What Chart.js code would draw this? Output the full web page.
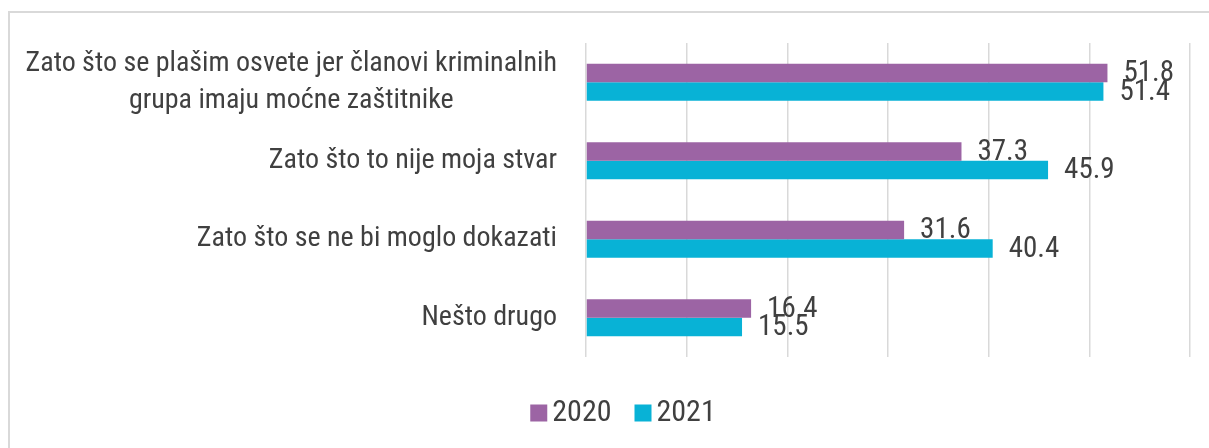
<!DOCTYPE html>
<html>
<head>
<meta charset="utf-8">
<script src="https://cdn.jsdelivr.net/npm/chart.js@4.4.1/dist/chart.umd.min.js"></script>
<style>
  html, body { margin: 0; padding: 0; background: #fff; }
  #wrap { position: relative; width: 1209px; height: 448px; overflow: hidden; }
  #frame { position: absolute; left: 8px; top: 11px; width: 1400px; height: 600px;
           border-left: 2px solid #d9d9d9; border-top: 2px solid #d9d9d9; }
  canvas { position: absolute; left: 0; top: 0; }
</style>
</head>
<body>
<div id="wrap">
  <div id="frame"></div>
  <canvas id="chart" width="1209" height="448"></canvas>
</div>
<script>
// kategorije (odgovori), svaka linija posebno
const categories = [
  ['Zato što se plašim osvete jer članovi kriminalnih', 'grupa imaju moćne zaštitnike'],
  ['Zato što to nije moja stvar'],
  ['Zato što se ne bi moglo dokazati'],
  ['Nešto drugo']
];
const seriesNames = ['2020', '2021'];
const values2020 = [51.8, 37.3, 31.6, 16.4];
const values2021 = [51.4, 45.9, 40.4, 15.5];
const xTicks = [0, 10, 20, 30, 40, 50, 60];

// 'condensed' ide u shorthand jer ctx.font resetuje fontStretch
const FONT = 'Roboto, sans-serif';
const font = size => 'condensed ' + size + 'px ' + FONT;
const TEXT = '#404040';

// labele kategorija - blok poravnat desno, linije centrirane unutar bloka
const categoryLabels = {
  id: 'categoryLabels',
  afterDraw(chart) {
    const ctx = chart.ctx;
    const y = chart.scales.y;
    const right = chart.chartArea.left - 29;
    const lh = 37;
    ctx.save();
    ctx.font = font(28);
    ctx.fillStyle = TEXT;
    ctx.textAlign = 'center';
    ctx.textBaseline = 'middle';
    categories.forEach((lines, i) => {
      const w = Math.max(...lines.map(l => ctx.measureText(l).width));
      const cx = right - w / 2;
      const cy = y.getPixelForValue(i);
      lines.forEach((l, j) => {
        ctx.fillText(l, cx, cy + (j - (lines.length - 1) / 2) * lh);
      });
    });
    ctx.restore();
  }
};

// vrijednosti pored stupaca
const valueLabels = {
  id: 'valueLabels',
  afterDatasetsDraw(chart) {
    const ctx = chart.ctx;
    ctx.save();
    ctx.font = font(29);
    ctx.fillStyle = TEXT;
    ctx.textAlign = 'left';
    ctx.textBaseline = 'middle';
    chart.data.datasets.forEach((ds, di) => {
      chart.getDatasetMeta(di).data.forEach((bar, i) => {
        ctx.fillText(ds.data[i].toFixed(1), bar.x + 16, bar.y + 1);
      });
    });
    ctx.restore();
  }
};

// legenda ispod grafa (kvadrat + godina)
const bottomLegend = {
  id: 'bottomLegend',
  afterDraw(chart) {
    const ctx = chart.ctx;
    const box = 17, gap = 5, spacing = 23;
    ctx.save();
    ctx.font = font(30);
    ctx.textAlign = 'left';
    ctx.textBaseline = 'middle';
    const items = chart.data.datasets.map(ds => ({
      text: ds.label, color: ds.backgroundColor, w: ctx.measureText(ds.label).width
    }));
    const total = items.reduce((s, it) => s + box + gap + it.w, 0) + spacing * (items.length - 1);
    let x = 623 - total / 2;
    const cy = 413;
    items.forEach(it => {
      ctx.fillStyle = it.color;
      ctx.fillRect(x, cy - box / 2, box, box);
      ctx.fillStyle = TEXT;
      ctx.fillText(it.text, x + box + gap, cy);
      x += box + gap + it.w + spacing;
    });
    ctx.restore();
  }
};

new Chart(document.getElementById('chart'), {
  type: 'bar',
  data: {
    labels: categories,
    datasets: [
      { label: seriesNames[0], data: values2020, backgroundColor: '#9c64a4' },
      { label: seriesNames[1], data: values2021, backgroundColor: '#08b2d6' }
    ]
  },
  options: {
    indexAxis: 'y',
    responsive: false,
    animation: false,
    layout: { padding: { top: 43, right: 19, left: 0, bottom: 91 } },
    datasets: { bar: { categoryPercentage: 0.47, barPercentage: 1 } },
    scales: {
      x: {
        min: xTicks[0],
        max: xTicks[xTicks.length - 1],
        afterBuildTicks: s => { s.ticks = xTicks.map(v => ({ value: v })); },
        afterFit: s => { s.height = 0; },
        ticks: { display: false },
        border: { display: false },
        grid: { color: '#d9d9d9', lineWidth: 1.5, drawTicks: false }
      },
      y: {
        afterFit: s => { s.width = 586; },
        ticks: { display: false },
        border: { display: false },
        grid: { display: false, drawTicks: false }
      }
    },
    plugins: {
      tooltip: { enabled: false },
      legend: { display: false }
    }
  },
  plugins: [categoryLabels, valueLabels, bottomLegend]
});
</script>
</body>
</html>
